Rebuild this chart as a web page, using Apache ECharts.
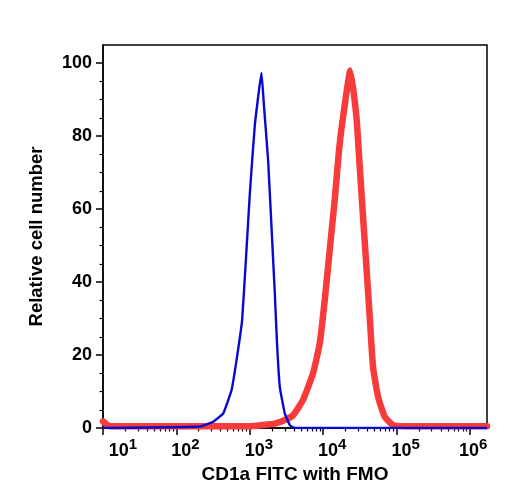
<!DOCTYPE html>
<html>
<head>
<meta charset="utf-8">
<script src="https://cdn.jsdelivr.net/npm/echarts@6/dist/echarts.min.js"></script>
<style>
  html, body { margin: 0; padding: 0; background: #fff; }
  #cd1a-histogram { width: 508px; height: 500px; }
</style>
</head>
<body>
<div id="cd1a-histogram"></div>
<script>
// axis ticks
const xMajorTicks = [10, 100, 1000, 10000, 100000, 1000000]
const xMinorTicks = [20, 30, 40, 50, 60, 70, 80, 90,
  200, 300, 400, 500, 600, 700, 800, 900,
  2000, 3000, 4000, 5000, 6000, 7000, 8000, 9000,
  20000, 30000, 40000, 50000, 60000, 70000, 80000, 90000,
  200000, 300000, 400000, 500000, 600000, 700000, 800000, 900000]
const yMajorTicks = [0, 20, 40, 60, 80, 100]
const yMinorTicks = [5, 10, 15, 25, 30, 35, 45, 50, 55, 65, 70, 75, 85, 90, 95]

// FMO control (blue)
const fmoX = [10, 209, 316, 434, 564, 659, 785, 883, 1000, 1169, 1442, 1549, 1774, 1972, 2188, 2344, 2559, 2992, 3499, 4074, 1700000]
const fmoY = [0, 0.4, 1.7, 4.0, 10.4, 18.6, 29.6, 46, 64.3, 83, 97.4, 89, 73.4, 55.2, 37, 23.3, 11.3, 4.0, 0.8, 0, 0]

// CD1a FITC stained (red)
const cd1aX = [10, 11.5, 13, 1000, 1455, 2188, 2992, 3882, 5309, 7261, 8954, 10470, 12250, 14320, 16410, 18620, 23440,
  28310, 31410, 34830, 38730, 42950, 47640, 55720, 68710, 89130, 125900, 1700000]
const cd1aY = [1.8, 0.8, 0.5, 0.5, 0.8, 1.2, 2.2, 3.5, 7.7, 15, 23.2, 35, 48.8, 62.5, 76.2, 85.3, 98,
  85.3, 71.6, 57.9, 44.2, 30.5, 16.8, 8.6, 3.1, 0.8, 0.5, 0.5]

const font = 'Liberation Sans, Arial, Helvetica, sans-serif'
const zip = (xs, ys) => xs.map((x, i) => [x, ys[i]])

const chart = echarts.init(document.getElementById('cd1a-histogram'))

chart.setOption({
  animation: false,
  grid: {
    left: 103,
    right: 21,
    top: 45,
    bottom: 72,
    show: true,
    borderColor: '#000',
    borderWidth: 1.5
  },
  xAxis: [{
    type: 'log',
    logBase: 10,
    min: 10,
    max: 1700000,
    name: 'CD1a FITC with FMO',
    nameLocation: 'middle',
    nameGap: 32,
    nameTextStyle: { fontFamily: font, fontSize: 19, fontWeight: 'bold', color: '#000' },
    axisLine: { lineStyle: { color: '#000', width: 1.5 } },
    axisTick: { customValues: xMajorTicks, length: 7, lineStyle: { color: '#000', width: 1.5 } },
    splitLine: { show: false },
    axisLabel: {
      customValues: xMajorTicks,
      margin: 9,
      formatter: function (v) {
        const e = Math.round(Math.log10(v))
        const gap = e === 1 ? 'g1' : (e === 6 ? 'g6' : 'g2')
        return '{' + gap + '| }{b|10}{s|' + e + '}'
      },
      rich: {
        g1: { width: 40 },
        g2: { width: 18 },
        g6: { width: 6 },
        b: { fontFamily: font, fontSize: 18, fontWeight: 'bold', color: '#000', verticalAlign: 'bottom', lineHeight: 23 },
        s: { fontFamily: font, fontSize: 15, fontWeight: 'bold', color: '#000', verticalAlign: 'top', lineHeight: 23 }
      }
    }
  }, {
    type: 'log',
    logBase: 10,
    min: 10,
    max: 1700000,
    gridIndex: 0,
    position: 'bottom',
    axisLine: { show: false },
    axisTick: { customValues: xMinorTicks, length: 3.5, lineStyle: { color: '#000', width: 1.2 } },
    axisLabel: { show: false },
    splitLine: { show: false }
  }],
  yAxis: [{
    type: 'value',
    min: 0,
    max: 105,
    name: 'Relative cell number',
    nameLocation: 'middle',
    nameGap: 57,
    nameTextStyle: { fontFamily: font, fontSize: 18.5, fontWeight: 'bold', color: '#000' },
    axisLine: { show: true, lineStyle: { color: '#000', width: 1.5 } },
    axisTick: { show: true, customValues: yMajorTicks, length: 7, lineStyle: { color: '#000', width: 1.5 } },
    splitLine: { show: false },
    axisLabel: {
      customValues: yMajorTicks,
      margin: 11,
      fontFamily: font,
      fontSize: 18,
      fontWeight: 'bold',
      color: '#000'
    }
  }, {
    type: 'value',
    min: 0,
    max: 105,
    position: 'left',
    axisLine: { show: false },
    axisTick: { show: true, customValues: yMinorTicks, length: 3.5, lineStyle: { color: '#000', width: 1.2 } },
    axisLabel: { show: false },
    splitLine: { show: false }
  }],
  series: [{
    name: 'CD1a FITC',
    type: 'line',
    data: zip(cd1aX, cd1aY),
    showSymbol: false,
    smooth: 0.15,
    lineStyle: { color: '#f73b3b', width: 6.5, join: 'round', cap: 'round' },
    z: 2
  }, {
    name: 'FMO',
    type: 'line',
    data: zip(fmoX, fmoY),
    showSymbol: false,
    smooth: 0.1,
    lineStyle: { color: '#0808d0', width: 2.4, join: 'round' },
    z: 3
  }]
})
</script>
</body>
</html>
